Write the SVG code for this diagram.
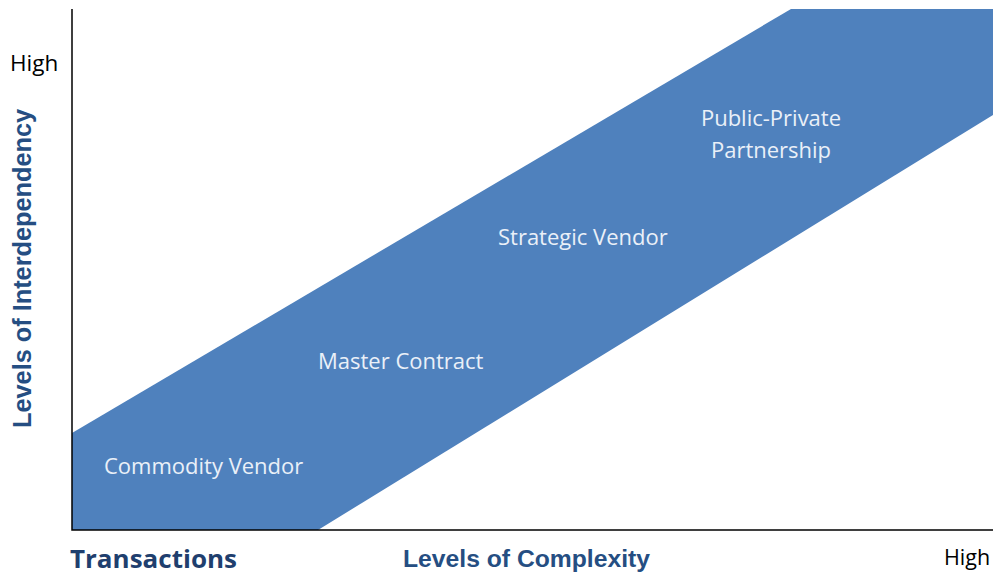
<svg xmlns="http://www.w3.org/2000/svg" width="993" height="574" viewBox="0 0 993 574">
<style>
.band{fill:#4F81BD}
.lbl{font-family:"Open Sans","Liberation Sans",sans-serif;font-size:22px;fill:#EAF0F8}
.tick{font-family:"Open Sans","Liberation Sans",sans-serif;fill:#000}
.ax{font-family:"Liberation Sans",Arial,sans-serif;font-weight:bold;fill:#254E82}
.axis{stroke:#000;stroke-width:1.5;fill:none}
</style>
<rect width="993" height="574" fill="#fff"/>
<g id="band">
<polygon class="band" points="72,433 791,9 993,9 993,115 318,530 72,530"/>
</g>
<g id="axes">
<path class="axis" d="M72,9 V530 H993"/>
</g>
<g id="commodity"><text class="lbl" x="104" y="474">Commodity Vendor</text></g>
<g id="master"><text class="lbl" x="318" y="369">Master Contract</text></g>
<g id="strategic"><text class="lbl" x="498" y="245">Strategic Vendor</text></g>
<g id="ppp"><text class="lbl" x="771" y="126" text-anchor="middle">Public-Private</text><text class="lbl" x="771" y="158" text-anchor="middle">Partnership</text></g>
<g id="labels">
<text class="tick" x="10" y="71" font-size="22.5">High</text>
<text class="tick" x="944" y="565" font-size="21.5">High</text>
<text x="70" y="568" font-family="'Open Sans','Liberation Sans',sans-serif" font-weight="bold" font-size="25" fill="#1F3F6E" textLength="167" lengthAdjust="spacingAndGlyphs">Transactions</text>
<text class="ax" x="403" y="567" font-size="24.7">Levels of Complexity</text>
<text class="ax" font-size="25.3" transform="translate(31,428) rotate(-90)">Levels of Interdependency</text>
</g>
</svg>
